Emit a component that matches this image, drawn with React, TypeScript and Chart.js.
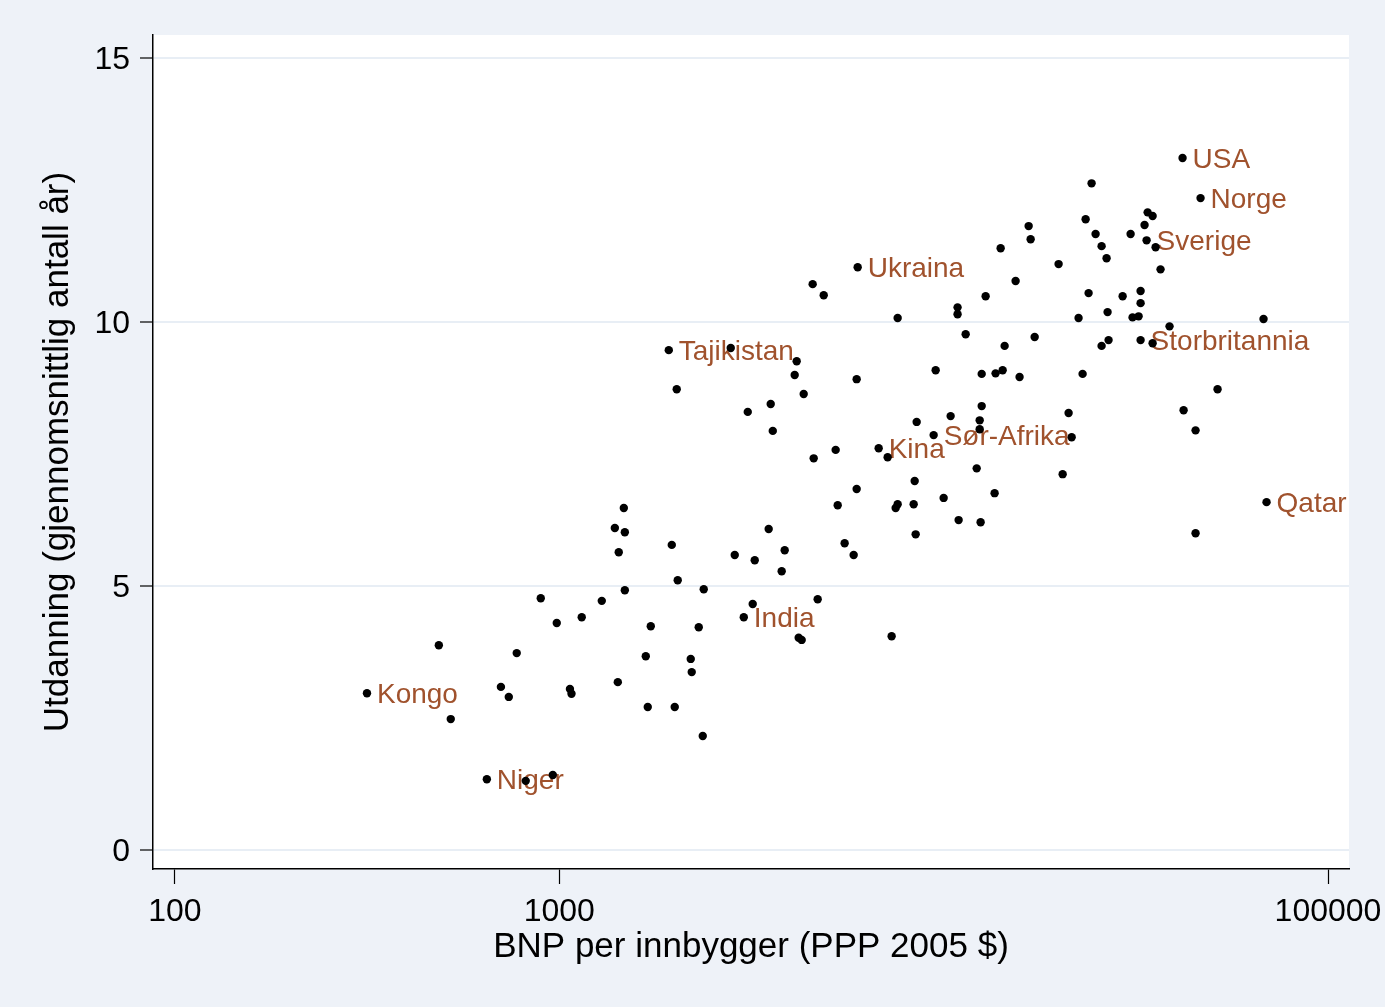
import React, { useEffect, useRef } from 'react';
import { Chart, registerables } from 'chart.js';

Chart.register(...registerables);

// Labelled countries
const labelNames = ['USA', 'Norge', 'Sverige', 'Ukraina', 'Tajikistan', 'Storbritannia', 'Kina', 'Sør-Afrika', 'Qatar', 'India', 'Kongo', 'Niger'];
const labelGdp = [41840, 46600, 33730, 5975, 1927, 32540, 6776, 9419, 69200, 3020, 316, 648];
const labelEdu = [13.11, 12.35, 11.55, 11.04, 9.47, 9.66, 7.61, 7.86, 6.59, 4.41, 2.97, 1.34];

// Other countries (GDP per capita, PPP 2005 $)
const otherGdp = [
  486, 522, 818, 962, 705, 739, 775, 895, 985, 1144, 1290, 1066, 1076, 1420, 1472, 1395, 1481, 1428, 1481,
  1730, 1679, 1699, 2021, 2793, 1962, 2033, 2376, 2306, 2198, 2211, 1997, 2362, 2861, 3225, 3506, 3859,
  3790, 3186, 4702, 4196, 4272, 7323, 5301, 5939, 5526, 5833, 8407, 7592, 7502, 8356, 10000, 8457, 3093,
  3593, 3549, 4097, 4146, 4324, 4563, 4875, 7592, 5939, 9533, 8508, 10428, 4591, 5237, 7150, 12560, 12410,
  12410, 21140, 21530, 12190, 20400, 13570, 10940, 12480, 42100, 45230, 45230, 24260, 33940, 34970, 33320,
  23410, 16640, 16840, 24850, 30650, 35600, 25760, 26540, 14070, 19910, 36670, 15390, 12860, 23830, 29220,
  32540, 32540, 10870, 10870, 26700, 22440, 31010, 32150, 67960, 38700, 11410, 17250, 14410, 26860, 25760,
  34970, 12560, 13650, 14240, 15760, 22990, 51600,
];
// Education (average years of schooling)
const otherEdu = [
  3.88, 2.48, 1.31, 1.42, 3.09, 2.90, 3.73, 4.77, 4.30, 4.41, 4.72, 3.05, 2.96, 3.18, 6.48, 6.10, 6.02, 5.64, 4.92,
  4.24, 3.67, 2.71, 8.73, 9.51, 5.78, 5.11, 4.94, 4.22, 3.62, 3.37, 2.71, 2.16, 5.59, 5.49, 6.08, 5.68,
  5.28, 4.66, 4.75, 4.02, 3.98, 4.05, 6.53, 6.84, 5.81, 5.59, 6.99, 6.55, 6.48, 6.55, 6.67, 5.98, 8.30,
  7.94, 8.45, 9.00, 9.26, 8.64, 10.72, 10.51, 10.08, 8.92, 9.09, 8.11, 8.22, 7.42, 7.58, 7.44, 8.41, 8.14,
  7.97, 8.28, 7.82, 7.23, 7.12, 6.76, 6.25, 6.21, 8.33, 7.95, 6.00, 12.63, 12.08, 12.01, 11.84,
  11.95, 11.82, 11.57, 11.67, 11.67, 11.42, 11.44, 11.21, 11.40, 11.10, 11.00, 10.78, 10.49, 10.55, 10.49,
  10.59, 10.36, 10.28, 10.15, 10.19, 10.08, 10.09, 10.11, 10.06, 9.92, 9.77, 9.72, 9.55, 9.66, 9.55,
  9.60, 9.02, 9.03, 9.09, 8.96, 9.02, 8.73,
];

const xTicks = [100, 1000, 100000];
const yTicks = [0, 5, 10, 15];
const xRange = [87.7, 113400];
const yRange = [-0.36, 15.44];

const xTitle = 'BNP per innbygger (PPP 2005 $)';
const yTitle = 'Utdanning (gjennomsnittlig antall år)';

const W = 1385;
const H = 1007;
const BG = '#EEF2F8';
const GRID = '#E8EEF5';
const LABEL_COLOR = 'rgb(160, 82, 45)';
const FONT = '"Liberation Sans", Arial, Helvetica, sans-serif';

export default function App() {
  const ref = useRef<HTMLCanvasElement | null>(null);

  useEffect(() => {
    const canvas = ref.current;
    if (!canvas) return;
    Chart.defaults.font.family = FONT;

    const bgPlugin = {
      id: 'bgPlugin',
      beforeDraw(chart: any) {
        const { ctx, chartArea } = chart;
        ctx.save();
        ctx.fillStyle = BG;
        ctx.fillRect(0, 0, chart.width, chart.height);
        ctx.fillStyle = '#ffffff';
        ctx.fillRect(chartArea.left, chartArea.top, chartArea.right - chartArea.left, chartArea.bottom - chartArea.top);
        ctx.restore();
      },
    };

    const labelPlugin = {
      id: 'labelPlugin',
      beforeDatasetsDraw(chart: any) {
        const { ctx } = chart;
        const xs = chart.scales.x;
        const ys = chart.scales.y;
        ctx.save();
        ctx.fillStyle = LABEL_COLOR;
        ctx.font = `28px ${FONT}`;
        ctx.textAlign = 'left';
        ctx.textBaseline = 'middle';
        labelNames.forEach((name, i) => {
          const px = xs.getPixelForValue(labelGdp[i]);
          const py = ys.getPixelForValue(labelEdu[i]);
          ctx.fillText(name, px + 10, py + 2);
        });
        ctx.restore();
      },
    };

    const chart = new Chart(canvas, {
      type: 'scatter',
      data: {
        datasets: [
          {
            data: otherGdp.map((g, i) => ({ x: g, y: otherEdu[i] })),
            backgroundColor: '#000',
            borderWidth: 0,
            pointRadius: 4.2,
          },
          {
            data: labelGdp.map((g, i) => ({ x: g, y: labelEdu[i] })),
            backgroundColor: '#000',
            borderWidth: 0,
            pointRadius: 4.2,
          },
        ],
      },
      options: {
        responsive: false,
        animation: false,
        events: [],
        layout: { padding: { top: 35, right: 36, left: 0, bottom: 0 } },
        plugins: { legend: { display: false }, tooltip: { enabled: false } },
        scales: {
          x: {
            type: 'logarithmic',
            min: xRange[0],
            max: xRange[1],
            afterBuildTicks: (s: any) => {
              s.ticks = xTicks.map((v) => ({ value: v }));
            },
            afterFit: (s: any) => {
              s.height = H - 869;
              s.paddingLeft = 0;
              s.paddingRight = 0;
            },
            border: { display: true, color: '#000', width: 1.5 },
            grid: {
              display: true,
              drawOnChartArea: false,
              drawTicks: true,
              tickLength: 15,
              tickColor: '#000',
              tickWidth: 1.2,
            },
            ticks: {
              color: '#000',
              font: { size: 32 },
              padding: 9,
              maxRotation: 0,
              autoSkip: false,
              callback: (v: any) => String(v),
            },
            title: {
              display: true,
              text: xTitle,
              color: '#000',
              font: { size: 35 },
              padding: { top: 0, bottom: 39 },
            },
          },
          y: {
            type: 'linear',
            min: yRange[0],
            max: yRange[1],
            afterBuildTicks: (s: any) => {
              s.ticks = yTicks.map((v) => ({ value: v }));
            },
            afterFit: (s: any) => {
              s.width = 153;
              s.paddingTop = 0;
              s.paddingBottom = 0;
            },
            border: { display: true, color: '#000', width: 1.5 },
            grid: {
              display: true,
              drawOnChartArea: true,
              color: GRID,
              lineWidth: 2,
              drawTicks: true,
              tickLength: 13,
              tickColor: '#000',
              tickWidth: 1.2,
            },
            ticks: {
              color: '#000',
              font: { size: 32 },
              padding: 10,
              labelOffset: 2,
              autoSkip: false,
              callback: (v: any) => String(v),
            },
            title: {
              display: true,
              text: yTitle,
              color: '#000',
              font: { size: 35 },
              padding: { top: 37, bottom: 0 },
            },
          },
        },
      },
      plugins: [bgPlugin, labelPlugin],
    } as any);

    return () => chart.destroy();
  }, []);

  return (
    <div style={{ position: 'absolute', left: 0, top: 0, width: W, height: H, background: BG }}>
      <canvas ref={ref} width={W} height={H} style={{ display: 'block', width: W, height: H }} />
    </div>
  );
}
